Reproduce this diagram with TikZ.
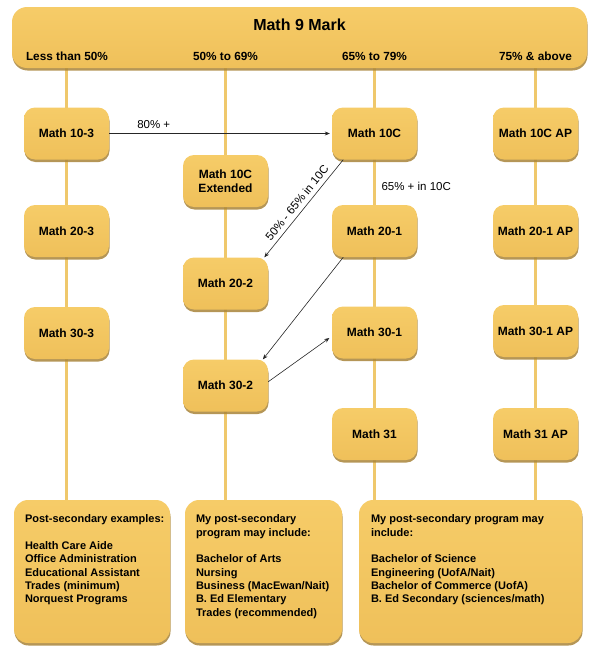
\documentclass[tikz,border=0pt]{standalone}
\usepackage{fontspec}
\setmainfont{Liberation Sans}
\usetikzlibrary{arrows.meta}
\usetikzlibrary{shadows}
\usetikzlibrary{backgrounds}

\definecolor{boxtop}{HTML}{F6CC68}
\definecolor{boxbottom}{HTML}{EFC05A}
\definecolor{boxedge}{HTML}{A8843A}
\definecolor{linegold}{HTML}{EFC86C}

\begin{document}
\begin{tikzpicture}[x=1pt, y=-1pt, every node/.style={font=\fontsize{12}{14}\selectfont\bfseries}, >=Stealth,
    course/.style={rounded corners=11pt, top color=boxtop, bottom color=boxbottom,
        minimum width=85pt, minimum height=52pt, inner sep=2pt, align=center,
        drop shadow={shadow xshift=0.5pt, shadow yshift=-2.5pt, fill=boxedge, opacity=0.85}},
    post/.style={course, minimum height=143pt, rounded corners=14pt},
    posttxt/.style={anchor=north west, align=left, inner sep=0pt, font=\fontsize{11}{13.3}\selectfont\bfseries},
    head/.style={font=\fontsize{11.8}{14}\selectfont\bfseries},
    note/.style={font=\fontsize{11.5}{13}\selectfont},
    stem/.style={draw=linegold, line width=2.2pt},
    conn/.style={-{Stealth[length=5pt,width=4pt]}, draw=black!85, line width=0.6pt}]

\useasboundingbox (0,0) rectangle (597,653);

% --- HEADER BAR ---
\node[course, minimum width=575pt, minimum height=61pt, rounded corners=15pt] (bar) at (299.5,37.5) {};
\node[font=\fontsize{16}{18}\selectfont\bfseries] (title) at (299.5,25) {Math 9 Mark};
\node[head] (h1) at (67,56) {Less than 50\%};
\node[head] (h2) at (225.5,56) {50\% to 69\%};
\node[head] (h3) at (374.5,56) {65\% to 79\%};
\node[head] (h4) at (535.5,56) {75\% \& above};

% --- COURSES ---
\node[course] (m103) at (66.5,133.5) {Math 10-3};
\node[course] (m203) at (66.5,231) {Math 20-3};
\node[course] (m303) at (66.5,333) {Math 30-3};

\node[course] (m10ce) at (225.5,181) {Math 10C\\Extended};
\node[course] (m202) at (225.5,283.5) {Math 20-2};
\node[course] (m302) at (225.5,385.5) {Math 30-2};

\node[course] (m10c) at (374.5,133.5) {Math 10C};
\node[course] (m201) at (374.5,231) {Math 20-1};
\node[course] (m301) at (374.5,332.5) {Math 30-1};
\node[course] (m31) at (374.5,434) {Math 31};

\node[course] (m10cap) at (535.5,133.5) {Math 10C AP};
\node[course] (m201ap) at (535.5,231) {Math 20-1 AP};
\node[course] (m301ap) at (535.5,331) {Math 30-1 AP};
\node[course] (m31ap) at (535.5,434) {Math 31 AP};

% --- POST-SECONDARY ---
\node[post, minimum width=156pt] (post1) at (92,571.5) {};
\node[post, minimum width=157pt] (post2) at (263.5,571.5) {};
\node[post, minimum width=223pt] (post3) at (470.5,571.5) {};

\node[posttxt] (txt1) at ([xshift=11pt, yshift=-15pt]post1.north west)
    {Post-secondary examples:\\[13.3pt]
     Health Care Aide\\ Office Administration\\ Educational Assistant\\
     Trades (minimum)\\ Norquest Programs};
\node[posttxt] (txt2) at ([xshift=11pt, yshift=-15pt]post2.north west)
    {My post-secondary\\ program may include:\\[13.3pt]
     Bachelor of Arts\\ Nursing\\ Business (MacEwan/Nait)\\
     B. Ed Elementary\\ Trades (recommended)};
\node[posttxt] (txt3) at ([xshift=12pt, yshift=-15pt]post3.north west)
    {My post-secondary program may\\ include:\\[13.3pt]
     Bachelor of Science\\ Engineering (UofA/Nait)\\
     Bachelor of Commerce (UofA)\\ B. Ed Secondary (sciences/math)};

% --- COLUMN STEMS ---
\begin{pgfonlayer}{background}
    \draw[stem] (bar.south -| m103) -- (post1.north -| m103);
    \draw[stem] (bar.south -| m10ce) -- (post2.north -| m10ce);
    \draw[stem] (bar.south -| m10c) -- (post3.north -| m10c);
    \draw[stem] (bar.south -| m10cap) -- (post3.north -| m10cap);
\end{pgfonlayer}

% --- MOVES BETWEEN STREAMS ---
\draw[conn, shorten >=2pt] (m103.east) -- (m10c.west)
    node[note, pos=0.2, above=1pt] (l80) {80\% +};
\draw[conn] (m10c.220) -- (m202.34)
    node[note, midway, sloped, above=1pt] (l50) {50\% - 65\% in 10C};
\node[note, anchor=west] (l65) at (378,186) {65\% + in 10C};
\draw[conn] (m201.220) -- (m302.35);
\draw[conn, shorten >=3pt] (m302.5) -- (m301.185);

\end{tikzpicture}
\end{document}
